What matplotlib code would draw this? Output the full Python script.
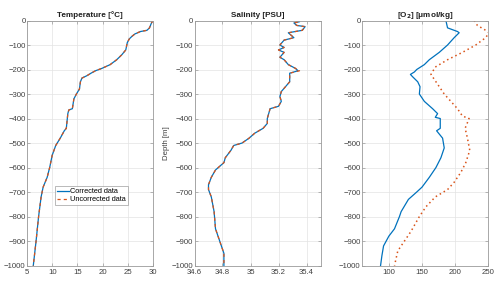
import numpy as np
import matplotlib
matplotlib.use('Agg')
import matplotlib.pyplot as plt

plt.rcParams['font.family'] = ['Liberation Sans', 'DejaVu Sans']

# ── Profils ─────────────────────────────────────
temp_depth = [0, -10, -30, -40, -45, -55, -65, -75, -90, -120, -140, -160, -180,
              -195, -205, -215, -225, -235, -250, -280, -300, -320, -360, -365,
              -380, -440, -450, -480, -510, -550, -600, -640, -680, -720, -800,
              -900, -1000]
temp_corr = [30.0, 29.7, 29.3, 28.8, 27.5, 26.4, 25.8, 25.3, 24.9, 24.6, 23.8,
             22.8, 21.5, 19.9, 18.6, 17.7, 16.9, 15.9, 15.6, 15.4, 14.8, 14.3,
             14.0, 13.3, 13.1, 12.8, 12.4, 11.6, 10.7, 10.0, 9.5, 9.0, 8.2, 7.8,
             7.3, 6.8, 6.25]
temp_raw = [30.0, 29.7, 29.3, 28.8, 27.5, 26.4, 25.8, 25.3, 24.9, 24.6, 23.8,
            22.8, 21.5, 19.9, 18.6, 17.7, 16.9, 15.9, 15.6, 15.4, 14.8, 14.3,
            14.0, 13.3, 13.1, 12.8, 12.4, 11.6, 10.7, 10.0, 9.5, 9.0, 8.2, 7.8,
            7.3, 6.8, 6.25]

sal_depth = [0, -5, -10, -20, -25, -40, -50, -60, -70, -80, -100, -110, -120,
             -130, -150, -160, -180, -195, -205, -215, -230, -250, -270, -290,
             -310, -330, -350, -360, -380, -400, -420, -440, -460, -480, -500,
             -510, -530, -560, -580, -610, -640, -670, -690, -720, -780, -850,
             -900, -950, -1000]
sal_corr = [35.32, 35.35, 35.31, 35.33, 35.39, 35.37, 35.27, 35.29, 35.31, 35.24,
            35.21, 35.24, 35.20, 35.24, 35.21, 35.24, 35.27, 35.32, 35.34, 35.28,
            35.28, 35.28, 35.25, 35.22, 35.21, 35.22, 35.20, 35.14, 35.13, 35.12,
            35.12, 35.09, 35.03, 34.99, 34.94, 34.88, 34.86, 34.82, 34.81, 34.75,
            34.72, 34.70, 34.70, 34.72, 34.74, 34.75, 34.78, 34.81, 34.81]
sal_raw = [35.32, 35.35, 35.31, 35.33, 35.39, 35.37, 35.27, 35.29, 35.31, 35.24,
           35.21, 35.24, 35.20, 35.24, 35.21, 35.24, 35.27, 35.32, 35.35, 35.28,
           35.28, 35.28, 35.25, 35.22, 35.21, 35.22, 35.20, 35.14, 35.13, 35.12,
           35.12, 35.09, 35.03, 34.99, 34.94, 34.88, 34.86, 34.82, 34.81, 34.75,
           34.72, 34.70, 34.70, 34.72, 34.74, 34.75, 34.78, 34.81, 34.81]

o2_depth = [0, -30, -45, -50, -70, -100, -130, -160, -180, -200, -210, -220,
            -230, -250, -270, -300, -330, -360, -380, -395, -400, -440, -450,
            -480, -520, -560, -600, -640, -680, -700, -730, -780, -800, -850,
            -880, -920, -960, -1000]
o2_corr = [186.5, 189, 204, 206.5, 199, 189, 176.5, 161.5, 154, 142.5, 139, 133,
           136.5, 144, 147.5, 146.5, 154, 166.5, 174, 170.5, 178, 178, 172.5,
           181.5, 184, 179, 171.5, 161.5, 150.5, 142.5, 130, 119, 116.5, 109,
           100.5, 92.5, 90, 88]

o2raw_depth = [0, -20, -40, -50, -70, -100, -130, -160, -190, -220, -250, -280,
               -300, -330, -360, -390, -400, -440, -480, -530, -580, -620, -660,
               -690, -720, -760, -800, -860, -900, -940, -1000]
o2_raw = [229, 234, 246.5, 251.5, 246.5, 231.5, 211.5, 189, 170.5, 164, 171.5,
          179, 184, 194, 204, 211.5, 221.5, 215.5, 219, 222.5, 216.5, 209, 199,
          189, 170.5, 156.5, 146.5, 134, 124, 114, 109]

BLUE = '#0072BD'
ORANGE = '#D95319'
FS = 5.6

fig = plt.figure(figsize=(5.0, 2.81), dpi=100)
lefts = [0.054, 0.389, 0.724]
axes = [fig.add_axes([l, 0.055, 0.252, 0.872]) for l in lefts]


def style(ax, xlim, xticks, title):
    ax.set_xlim(*xlim)
    ax.set_ylim(-1000, 0)
    ax.set_xticks(xticks)
    ax.set_yticks(np.arange(-1000, 1, 100))
    ax.grid(True, color='#e3e3e3', lw=0.5)
    ax.set_axisbelow(True)
    for s in ax.spines.values():
        s.set_color('#9a9a9a')
        s.set_linewidth(0.6)
    ax.tick_params(direction='in', length=2, width=0.5, color='#9a9a9a',
                   labelsize=FS, labelcolor='#404040',
                   top=True, right=True)
    ax.tick_params(axis='y', pad=1)
    ax.tick_params(axis='x', pad=2.5)
    ax.set_title(title, fontsize=FS + 0.3, fontweight='bold', pad=2.5,
                 color='#202020')


# Température
ax = axes[0]
ax.plot(temp_corr, temp_depth, color=BLUE, lw=0.9, label='Corrected data')
ax.plot(temp_raw, temp_depth, color=ORANGE, lw=0.9, ls=(0, (2.5, 2.5)),
        label='Uncorrected data')
style(ax, (5, 30), [5, 10, 15, 20, 25, 30], 'Temperature [°C]')
leg = ax.legend(loc='center', bbox_to_anchor=(0.51, 0.285), fontsize=FS - 0.3,
                frameon=True, fancybox=False, handlelength=1.7,
                borderpad=0.25, labelspacing=0.15, handletextpad=0.15,
                borderaxespad=0)
leg.get_frame().set_edgecolor('#9a9a9a')
leg.get_frame().set_linewidth(0.6)

# Salinité
ax = axes[1]
ax.plot(sal_corr, sal_depth, color=BLUE, lw=0.9)
ax.plot(sal_raw, sal_depth, color=ORANGE, lw=0.9, ls=(0, (2.5, 2.5)))
style(ax, (34.6, 35.5), [34.6, 34.8, 35.0, 35.2, 35.4], 'Salinity [PSU]')
ax.set_xticklabels(['34.6', '34.8', '35', '35.2', '35.4'])
ax.set_ylabel('Depth [m]', fontsize=FS, color='#404040', labelpad=1)

# Oxygène
ax = axes[2]
ax.plot(o2_corr, o2_depth, color=BLUE, lw=0.9)
ax.plot(o2_raw, o2raw_depth, color=ORANGE, lw=1.1, ls=(0, (1, 2)))
style(ax, (60, 250), [100, 150, 200, 250], r'[O$_\mathbf{2}$] [μmol/kg]')

fig.savefig('out.png', dpi=100)
